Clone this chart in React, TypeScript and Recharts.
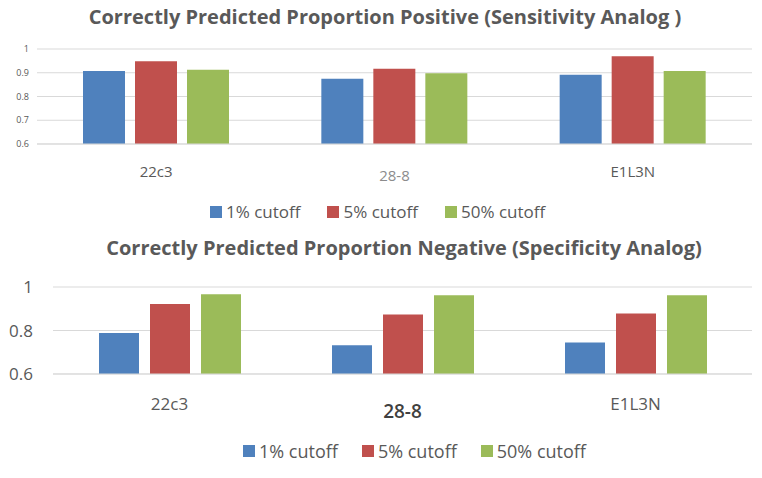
import React from 'react';
import { BarChart, Bar, XAxis, YAxis, CartesianGrid, Legend } from 'recharts';

const categories = ['22c3', '28-8', 'E1L3N'];
const sens1 = [0.907, 0.875, 0.892];
const sens5 = [0.948, 0.917, 0.969];
const sens50 = [0.913, 0.898, 0.907];
const spec1 = [0.789, 0.732, 0.745];
const spec5 = [0.922, 0.874, 0.878];
const spec50 = [0.967, 0.962, 0.962];
const seriesNames = ['1% cutoff', '5% cutoff', '50% cutoff'];
const topTicks = [0.6, 0.7, 0.8, 0.9, 1];
const bottomTicks = [0.6, 0.8, 1];
const titles = [
  'Correctly Predicted Proportion Positive (Sensitivity Analog )',
  'Correctly Predicted Proportion Negative (Specificity Analog)',
];

const COLORS = ['#4f81bd', '#c0504d', '#9bbb59'];
const TEXT = '#595959';
const FONT = '"Open Sans", sans-serif';

const topData = categories.map((c, i) => ({ name: c, a: sens1[i], b: sens5[i], c: sens50[i] }));
const bottomData = categories.map((c, i) => ({ name: c, a: spec1[i], b: spec5[i], c: spec50[i] }));

const TopTick = (props: any) => {
  const { x, y, payload } = props;
  const special = payload.value === '28-8';
  return (
    <text x={x} y={y} dy={special ? 29 : 25} textAnchor="middle" fill={special ? '#8c8c8c' : TEXT}
      fontSize={15} fontFamily={FONT}>
      {payload.value}
    </text>
  );
};

const BottomTick = (props: any) => {
  const { x, y, payload } = props;
  const special = payload.value === '28-8';
  return (
    <text x={x} y={y} dy={special ? 36 : 28} textAnchor="middle" fill={special ? '#404040' : TEXT}
      fontSize={special ? 19 : 17} fontWeight={special ? 600 : 400} fontFamily={FONT}>
      {payload.value}
    </text>
  );
};

const makeLegend = (sq: number, fs: number, gap: number) => (props: any) => {
  const { payload } = props;
  return (
    <div style={{ display: 'flex', alignItems: 'center', fontFamily: FONT }}>
      {(payload || []).map((p: any, i: number) => (
        <div key={i} style={{ display: 'flex', alignItems: 'center', marginRight: gap }}>
          <div style={{ width: sq, height: sq, background: p.color, marginRight: 4 }} />
          <span style={{ color: TEXT, fontSize: fs, lineHeight: '20px' }}>{p.value}</span>
        </div>
      ))}
    </div>
  );
};

export default function App() {
  return (
    <div style={{ position: 'absolute', left: 0, top: 0, width: 762, height: 478, background: '#fff', fontFamily: FONT }}>
      <div style={{ position: 'absolute', left: 0, width: 770, top: 3, textAlign: 'center', fontSize: 20, fontWeight: 700, color: TEXT, lineHeight: '28px', whiteSpace: 'nowrap' }}>
        {titles[0]}
      </div>
      <div style={{ position: 'absolute', left: 0, width: 808, top: 234, textAlign: 'center', fontSize: 20, fontWeight: 700, color: TEXT, lineHeight: '28px', whiteSpace: 'nowrap' }}>
        {titles[1]}
      </div>

      <div style={{ position: 'absolute', left: 0, top: 0 }}>
        <BarChart width={762} height={235} data={topData} margin={{ top: 49, right: 10, left: 0, bottom: 51 }} barSize={42} barGap={10}>
          <CartesianGrid vertical={false} stroke="#d9d9d9" />
          <XAxis dataKey="name" height={40} tickLine={false} axisLine={{ stroke: '#d9d9d9' }} tick={<TopTick />} interval={0} />
          <YAxis width={37} domain={[0.6, 1]} ticks={topTicks} tickLine={false} axisLine={false}
            tick={{ fontSize: 9, fill: TEXT, fontFamily: FONT }} tickMargin={2} allowDataOverflow />
          <Legend verticalAlign="middle" layout="horizontal" align="center"
            wrapperStyle={{ top: 202, left: 210, width: 420 }} content={makeLegend(12, 17, 27)} />
          <Bar dataKey="a" name={seriesNames[0]} fill={COLORS[0]} isAnimationActive={false} />
          <Bar dataKey="b" name={seriesNames[1]} fill={COLORS[1]} isAnimationActive={false} />
          <Bar dataKey="c" name={seriesNames[2]} fill={COLORS[2]} isAnimationActive={false} />
        </BarChart>
      </div>

      <div style={{ position: 'absolute', left: 0, top: 230 }}>
        <BarChart width={762} height={248} data={bottomData} margin={{ top: 57, right: 10, left: 0, bottom: 64 }} barSize={40} barGap={11}>
          <CartesianGrid vertical={false} stroke="#d9d9d9" />
          <XAxis dataKey="name" height={40} tickLine={false} axisLine={{ stroke: '#d9d9d9' }} tick={<BottomTick />} interval={0} />
          <YAxis width={53} domain={[0.6, 1]} ticks={bottomTicks} tickLine={false} axisLine={false}
            tick={{ fontSize: 17, fill: TEXT, fontFamily: FONT }} tickMargin={14} allowDataOverflow />
          <Legend verticalAlign="middle" layout="horizontal" align="center"
            wrapperStyle={{ top: 211, left: 243, width: 420 }} content={makeLegend(12, 18, 24)} />
          <Bar dataKey="a" name={seriesNames[0]} fill={COLORS[0]} isAnimationActive={false} />
          <Bar dataKey="b" name={seriesNames[1]} fill={COLORS[1]} isAnimationActive={false} />
          <Bar dataKey="c" name={seriesNames[2]} fill={COLORS[2]} isAnimationActive={false} />
        </BarChart>
      </div>
    </div>
  );
}
